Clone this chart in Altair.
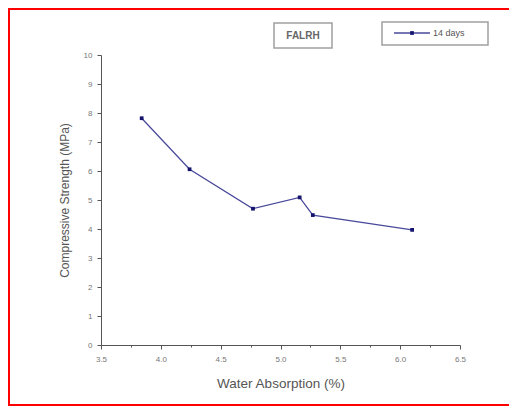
import altair as alt
import pandas as pd

# ---- data ----
water_absorption = [3.84, 4.24, 4.77, 5.16, 5.27, 6.10]
compressive_strength = [7.82, 6.06, 4.70, 5.09, 4.48, 3.97]
series_names = ["14 days"]
panel_label = ["FALRH"]
x_ticks = [3.5 + 0.25 * i for i in range(13)]
y_ticks = [0.5 * i for i in range(21)]

df = pd.DataFrame({"wa": water_absorption, "cs": compressive_strength,
                   "series": series_names[0]})
one = pd.DataFrame({"label": panel_label})
leg = pd.DataFrame({"name": series_names})

FONT = "Liberation Sans"
LINE = "#4a4a9c"
PT = "#14146e"
GREY = "#555555"

xscale = alt.Scale(domain=[3.5, 6.5], nice=False, zero=False)
yscale = alt.Scale(domain=[0, 10], nice=False)

xaxis = alt.Axis(
    title="Water Absorption (%)", values=x_ticks, format=".1f",
    labelExpr="(datum.value*2) % 1 === 0 ? datum.label : ''",
    tickSize={"condition": {"test": "(datum.value*2) % 1 === 0", "value": 4}, "value": 2},
    grid=False, domainColor=GREY, tickColor=GREY, labelColor="#777777",
    labelFontSize=8, labelFont=FONT, labelPadding=6, labelOverlap=False,
    titleFont=FONT, titleFontSize=13.5, titleFontWeight="normal", titleColor="#555555",
    titlePadding=13, labelFlush=False,
)
yaxis = alt.Axis(
    title="Compressive Strength (MPa)", values=y_ticks, format="d",
    labelExpr="datum.value % 1 === 0 ? datum.label : ''",
    tickSize={"condition": {"test": "datum.value % 1 === 0", "value": 4}, "value": 2},
    grid=False, domainColor=GREY, tickColor=GREY, labelColor="#777777",
    labelFontSize=8, labelFont=FONT, labelPadding=5, labelOverlap=False,
    titleFont=FONT, titleFontSize=12, titleFontWeight="normal", titleColor="#555555",
    titlePadding=12, labelFlush=False,
)

RED = "#ff0000"
frame_top = alt.Chart(one).mark_rule(color=RED, strokeWidth=2).encode(
    x=alt.value(-93), x2=alt.value(408), y=alt.value(-46)
)
frame_left = alt.Chart(one).mark_rule(color=RED, strokeWidth=2).encode(
    x=alt.value(-92), y=alt.value(-47), y2=alt.value(351)
)
frame_bottom = alt.Chart(one).mark_rule(color=RED, strokeWidth=2).encode(
    x=alt.value(-93), x2=alt.value(408), y=alt.value(350)
)

line = alt.Chart(df).mark_line(color=LINE, strokeWidth=1.3).encode(
    x=alt.X("wa:Q", scale=xscale, axis=xaxis),
    y=alt.Y("cs:Q", scale=yscale, axis=yaxis),
)
pts = alt.Chart(df).mark_point(shape="square", filled=True, color=PT, size=14, opacity=1).encode(
    x=alt.X("wa:Q", scale=xscale, axis=xaxis),
    y=alt.Y("cs:Q", scale=yscale, axis=yaxis),
)

# panel label box
lab_box = alt.Chart(one).mark_rect(fill="white", stroke="#a0a0a0", strokeWidth=1.5).encode(
    x=alt.value(173), x2=alt.value(231), y=alt.value(-32), y2=alt.value(-7)
)
lab_txt = alt.Chart(one).mark_text(font=FONT, fontSize=10, fontWeight="bold", color="#666666").encode(
    x=alt.value(202), y=alt.value(-19), text="label:N"
)

# legend
leg_box = alt.Chart(leg).mark_rect(fill="white", stroke="#a0a0a0", strokeWidth=1.5).encode(
    x=alt.value(281), x2=alt.value(387), y=alt.value(-33), y2=alt.value(-10)
)
leg_line = alt.Chart(leg).mark_rule(color=LINE, strokeWidth=1.3).encode(
    x=alt.value(293), x2=alt.value(329), y=alt.value(-22)
)
leg_pt = alt.Chart(leg).mark_point(shape="square", filled=True, color=PT, size=14, opacity=1).encode(
    x=alt.value(311), y=alt.value(-22)
)
leg_txt = alt.Chart(leg).mark_text(font=FONT, fontSize=9, color="#555555", align="left").encode(
    x=alt.value(332), y=alt.value(-22), text="name:N"
)

chart = alt.layer(
    frame_top, frame_left, frame_bottom, line, pts,
    lab_box, lab_txt, leg_box, leg_line, leg_pt, leg_txt
).properties(
    width=359, height=290,
    autosize=alt.AutoSizeParams(type="none"),
    padding={"left": 93, "top": 47, "right": 59, "bottom": 61},
).configure(background="white").configure_view(stroke=None)

chart.save("out.html", embed_options={"renderer": "svg", "actions": False})
